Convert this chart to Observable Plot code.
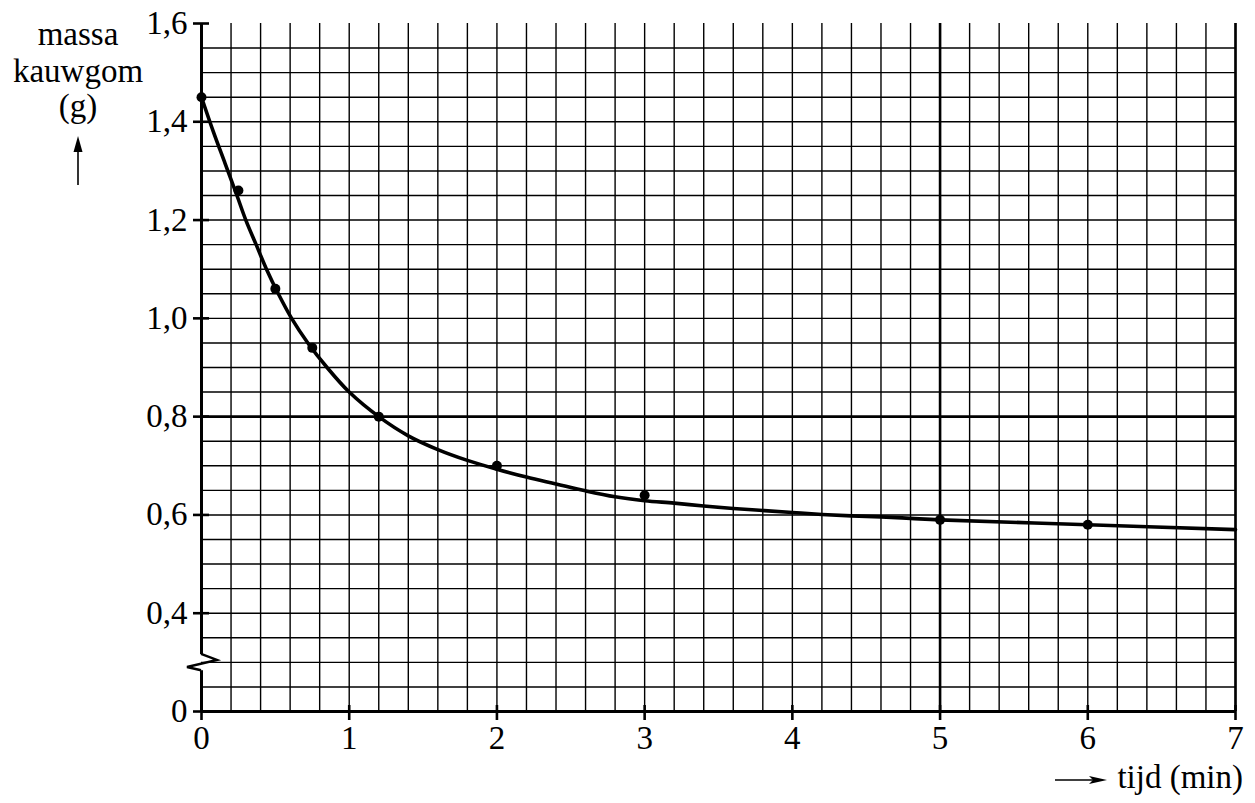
<!DOCTYPE html>
<html>
<head>
<meta charset="utf-8">
<script src="https://cdn.jsdelivr.net/npm/d3@7"></script>
<script src="https://cdn.jsdelivr.net/npm/@observablehq/plot@0.6"></script>
<style>
  html, body { margin: 0; padding: 0; background: #fff; }
  #chart { width: 1255px; height: 803px; }
  #chart svg, #chart svg text { font-family: "Liberation Serif", "DejaVu Serif", serif !important; }
</style>
</head>
<body>
<div id="chart"></div>
<script>
// ---- data ----
// x: tijd (min); y: massa kauwgom (g)
const measT = [0, 0.25, 0.5, 0.75, 1.2, 2, 3, 5, 6];
const measM = [1.45, 1.26, 1.06, 0.94, 0.80, 0.70, 0.64, 0.59, 0.58];

// hand-drawn fitted curve
const curveT = [0, 0.08, 0.16, 0.24, 0.30, 0.37, 0.44, 0.52, 0.61, 0.72, 0.85, 1.0, 1.2, 1.4, 1.6, 1.8, 2.0, 2.2, 2.4, 2.6, 2.8, 3.0, 3.2, 3.4, 3.6, 3.8, 4.0, 4.2, 4.4, 4.6, 4.8, 5.0, 6.0, 7.0];
const curveM = [1.45, 1.38, 1.315, 1.25, 1.20, 1.15, 1.10, 1.05, 1.00, 0.95, 0.90, 0.85, 0.80, 0.761, 0.733, 0.711, 0.693, 0.677, 0.663, 0.649, 0.637, 0.629, 0.624, 0.618, 0.613, 0.609, 0.605, 0.601, 0.598, 0.596, 0.593, 0.590, 0.580, 0.570];

// axis ticks (the y axis is broken: "0" sits where 0,2 would be)
const xTicks = [0, 1, 2, 3, 4, 5, 6, 7];
const xTickLabels = ["0", "1", "2", "3", "4", "5", "6", "7"];
const yTicks = [0.2, 0.4, 0.6, 0.8, 1.0, 1.2, 1.4, 1.6];
const yTickLabels = ["0", "0,4", "0,6", "0,8", "1,0", "1,2", "1,4", "1,6"];

// grid
const xGrid = d3.range(1, 36).map(i => +(i * 0.2).toFixed(2));   // every 0,2 min
const yGrid = d3.range(5, 32).map(i => +(i * 0.05).toFixed(2));  // every 0,05 g
const xBold = [5, 7];
const yBold = [0.8];
const axisBreak = [0.283, 0.316];

const yLabelLines = ["massa", "kauwgom", "(g)"];
const xLabel = "tijd (min)";

const meas = measT.map((t, i) => ({t, m: measM[i]}));
const curve = curveT.map((t, i) => ({t, m: curveM[i]}));

function decorations(index, scales, values, dimensions) {
  const g = d3.create("svg:g").attr("fill", "black").attr("stroke", "black")
    .attr("font-family", "Liberation Serif, serif").attr("font-size", 33);
  const x0 = scales.x(0);
  const yTop = scales.y(axisBreak[1]), yBot = scales.y(axisBreak[0]);
  // axis break zigzag
  g.append("path")
    .attr("fill", "none").attr("stroke-width", 2.4).attr("stroke-linejoin", "miter")
    .attr("d", `M${x0},${yTop} L${x0 + 16},${yTop + 6} L${x0 - 14},${yTop + 13} L${x0},${yBot}`);
  const {marginLeft, marginTop, width, height} = dimensions;
  // y label
  const lx = marginLeft - 123;
  const baselines = [marginTop + 22, marginTop + 59, marginTop + 94];
  yLabelLines.forEach((s, i) => {
    g.append("text").attr("x", lx).attr("y", baselines[i])
      .attr("text-anchor", "middle").attr("stroke", "none").text(s);
  });
  // up arrow
  g.append("line").attr("x1", lx).attr("x2", lx).attr("y1", marginTop + 162).attr("y2", marginTop + 124).attr("stroke-width", 1.6);
  g.append("path").attr("stroke", "none")
    .attr("d", `M${lx},${marginTop + 113} L${lx + 4.5},${marginTop + 129} L${lx - 4.5},${marginTop + 129} Z`);
  // x label
  const bx = width - 12, by = height - 15;
  g.append("text").attr("x", bx).attr("y", by).attr("text-anchor", "end").attr("stroke", "none").text(xLabel);
  const ay = by - 8;
  g.append("line").attr("x1", width - 200).attr("x2", width - 160).attr("y1", ay).attr("y2", ay).attr("stroke-width", 1.6);
  g.append("path").attr("stroke", "none")
    .attr("d", `M${width - 148},${ay} L${width - 166},${ay - 4} L${width - 162},${ay} L${width - 166},${ay + 4} Z`);
  return g.node();
}

const chart = Plot.plot({
  width: 1255,
  height: 803,
  marginLeft: 201,
  marginRight: 20,
  marginTop: 23,
  marginBottom: 92,
  style: {fontFamily: "Liberation Serif, serif", fontSize: "33px", background: "white", color: "black"},
  x: {domain: [0, 7]},
  y: {domain: [0.2, 1.6]},
  marks: [
    Plot.ruleX(xGrid, {stroke: "black", strokeWidth: 1.4}),
    Plot.ruleY(yGrid, {stroke: "black", strokeWidth: 1.4}),
    Plot.ruleX(xBold, {stroke: "black", strokeWidth: 2.6}),
    Plot.ruleY(yBold, {stroke: "black", strokeWidth: 2.6}),
    Plot.ruleY([0.2], {stroke: "black", strokeWidth: 3}),
    Plot.ruleX([0], {y1: axisBreak[1], y2: 1.6, stroke: "black", strokeWidth: 3}),
    Plot.ruleX([0], {y1: 0.2, y2: axisBreak[0], stroke: "black", strokeWidth: 3}),
    // ticks crossing the axes
    Plot.ruleX(xTicks, {y1: 0.2, y2: 0.2, insetTop: -6, insetBottom: -9, stroke: "black", strokeWidth: 2.6}),
    Plot.ruleY(yTicks, {x1: 0, x2: 0, insetLeft: -8, insetRight: -8, stroke: "black", strokeWidth: 2.6}),
    Plot.axisX(xTicks, {tickSize: 0, tickPadding: 14, label: null, fontSize: 33, tickFormat: d => xTickLabels[xTicks.indexOf(d)]}),
    Plot.axisY(yTicks, {tickSize: 0, tickPadding: 14, label: null, fontSize: 33, tickFormat: d => yTickLabels[yTicks.indexOf(d)]}),
    Plot.line(curve, {x: "t", y: "m", curve: "catmull-rom", stroke: "black", strokeWidth: 3.6}),
    Plot.dot(meas, {x: "t", y: "m", r: 5, fill: "black", stroke: "none"}),
    decorations
  ]
});
document.getElementById("chart").appendChild(chart);
</script>
</body>
</html>
